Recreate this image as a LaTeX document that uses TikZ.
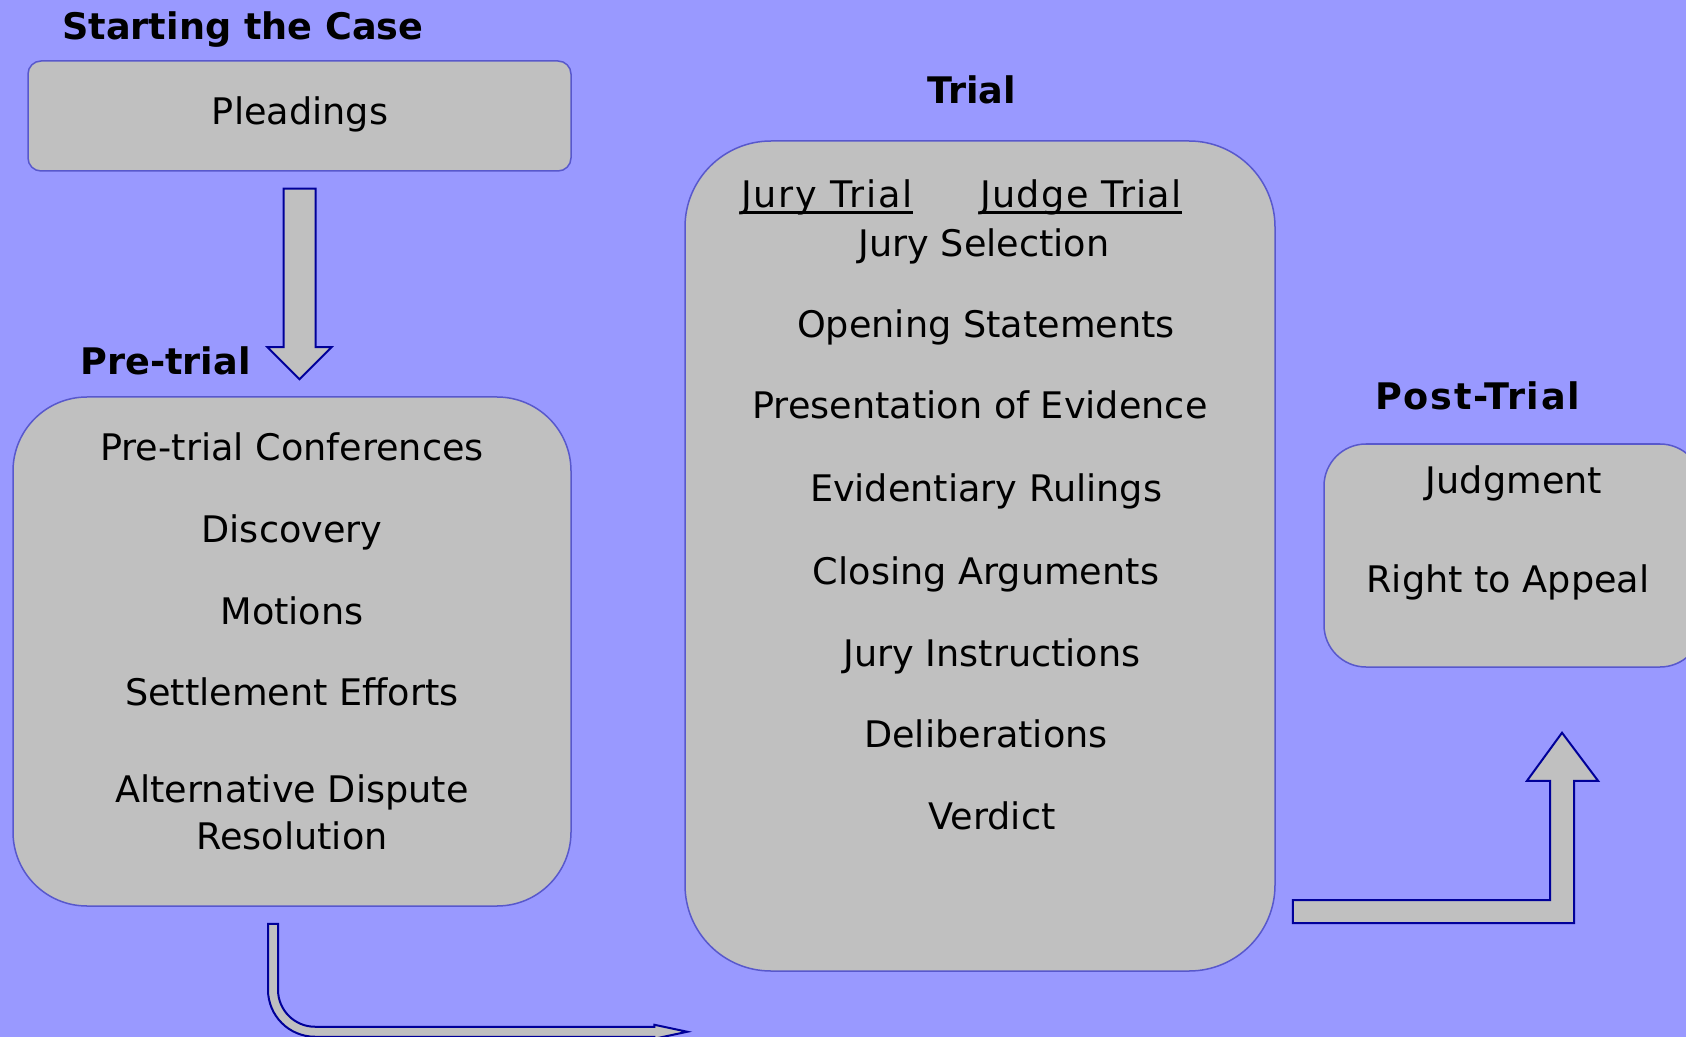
\documentclass[tikz,border=0pt]{standalone}
\usepackage{fontspec}
\setmainfont{DejaVu Sans}
\usepackage{tikz}
\usetikzlibrary{calc,fit}
\definecolor{bgblue}{RGB}{153,153,255}
\definecolor{boxgray}{RGB}{192,192,192}
\definecolor{boxline}{RGB}{88,88,204}
\definecolor{navy}{RGB}{0,0,153}

\tikzset{
  stage/.style={draw=boxline, line width=0.75pt, fill=boxgray, inner sep=0pt},
  heading/.style={anchor=base west, inner sep=0pt, font=\fontsize{18.3}{22}\selectfont\bfseries},
  item/.style={anchor=base, inner sep=0pt},
  blockarrow/.style={draw=navy, line width=1pt, fill=boxgray, line join=miter},
}

\begin{document}
\begin{tikzpicture}[x=0.5pt, y=-0.5pt, font=\fontsize{18.3}{22}\selectfont]
\useasboundingbox (0,0) rectangle (1686,1037);
\clip (0,0) rectangle (1686,1037);
\fill[bgblue] (0,0) rectangle (1686,1037);

% stages
\node[stage, rounded corners=6.5pt, fit={(28,61) (571,171)}] (pleadings) {};
\node[stage, rounded corners=37pt, fit={(13,397) (571,906)}] (pretrial) {};
\node[stage, rounded corners=43pt, fit={(685,141) (1275,971)}] (trial) {};
\node[stage, rounded corners=21pt, fit={(1324,444) (1702,667)}] (post) {};

\node[heading] (casehead) at (62,40) {Starting the Case};
\node[heading] (prehead) at (80,375) {Pre-trial};
\node[heading] (trialhead) at (927,104) {Trial};
\node[heading] (posthead) at (1375,409) {\addfontfeature{LetterSpace=4.5}Post-Trial};

\node[item] (plead) at (300,125) {Pleadings};

\node[item] (conf) at (292,460) {Pre-trial Conferences};
\node[item] (disc) at (292,542) {Discovery};
\node[item] (motions) at (292,624) {Motions};
\node[item] (settle) at (292,705) {Settlement Efforts};
\node[item] (adr) at (292,802) {Alternative Dispute};
\node[item] (adrb) at (292,849) {Resolution};

\node[item] (jury) at (827,208) {\addfontfeature{LetterSpace=5}Jury Trial};
\node[item] (judge) at (1081,208) {\addfontfeature{LetterSpace=3.8}Judge Trial};
\draw[line width=1.6pt] ($(jury.base west)+(0,4.5)$) -- ($(jury.base east)+(0,4.5)$);
\draw[line width=1.6pt] ($(judge.base west)+(0,4.5)$) -- ($(judge.base east)+(0,4.5)$);
\node[item] (select) at (984,257) {Jury Selection};
\node[item] (opening) at (986,338) {Opening Statements};
\node[item] (evidence) at (980,419) {Presentation of Evidence};
\node[item] (rulings) at (986,501) {Evidentiary Rulings};
\node[item] (closing) at (986,584) {Closing Arguments};
\node[item] (instr) at (992,666) {Jury Instructions};
\node[item] (delib) at (986,747) {Deliberations};
\node[item] (verdict) at (992,829) {Verdict};

\node[item] (judgment) at (1514,494) {Judgment};
\node[item] (appeal) at (1508,592) {Right to Appeal};

% block arrows between the stages
\coordinate (t1) at ($(pleadings.south)+(0,17)$);
\coordinate (h1) at ($(pleadings.south |- pretrial.north)+(0,-17)$);
\draw[blockarrow] ($(t1)+(-16,0)$) -- ($(t1)+(16,0)$) -- ($(h1)+(16,-32)$)
  -- ($(h1)+(32,-32)$) -- (h1) -- ($(h1)+(-32,-32)$) -- ($(h1)+(-16,-32)$) -- cycle;

\coordinate (t2) at ($(pretrial.south)+(-19,17)$);
\coordinate (h2) at ($(trial.south west)+(3,60)$);
\draw[blockarrow] ($(t2)+(5,0)$) -- ($(t2 |- h2)+(5,-42)$)
  arc[start angle=180, end angle=90, radius=37]
  -- ($(h2)+(-33,-5)$) -- ($(h2)+(-33,-7)$) -- (h2) -- ($(h2)+(-33,7)$)
  -- ($(h2)+(-33,5)$) -- ($(t2 |- h2)+(42,5)$)
  arc[start angle=90, end angle=180, radius=47]
  -- ($(t2)+(-5,0)$) -- cycle;

\coordinate (t3) at ($(trial.east)+(17,355)$);
\coordinate (h3) at ($(post.south)+(49,65)$);
\draw[blockarrow] ($(t3)+(0,-11)$) -- ($(h3 |- t3)+(-12,-11)$) -- ($(h3)+(-12,48)$)
  -- ($(h3)+(-35,48)$) -- (h3) -- ($(h3)+(36,48)$) -- ($(h3)+(12,48)$)
  -- ($(h3 |- t3)+(12,12)$) -- ($(t3)+(0,12)$) -- cycle;
\end{tikzpicture}
\end{document}
